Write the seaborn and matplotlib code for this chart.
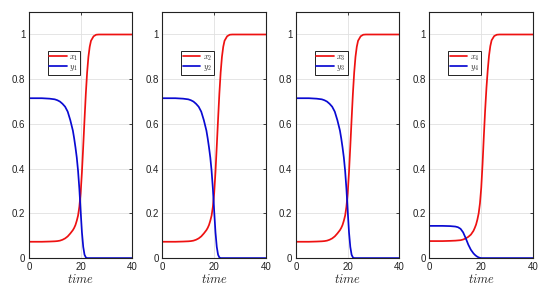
import numpy as np
import pandas as pd
import matplotlib
matplotlib.use("Agg")
import matplotlib.pyplot as plt
import seaborn as sns

# ---- data ----
time = [0, 5, 8, 10, 11, 12, 13, 14, 15, 16, 17, 17.5, 18, 18.5, 19, 19.5,
        20, 20.5, 21, 21.5, 22, 22.5, 23, 23.5, 24, 25, 26, 27, 30, 40]

x1 = [0.073, 0.073, 0.074, 0.075, 0.076, 0.078, 0.082, 0.088, 0.097, 0.11, 0.125, 0.135,
      0.148, 0.167, 0.19, 0.23, 0.29, 0.385, 0.50, 0.62, 0.735, 0.83, 0.90, 0.945,
      0.972, 0.992, 0.999, 1.0, 1.0, 1.0]
y1 = [0.715, 0.715, 0.713, 0.71, 0.706, 0.70, 0.69, 0.677, 0.655, 0.617, 0.57, 0.535,
      0.495, 0.45, 0.39, 0.31, 0.21, 0.115, 0.05, 0.015, 0.003, 0.0, 0.0, 0.0,
      0.0, 0.0, 0.0, 0.0, 0.0, 0.0]

x2 = [0.073, 0.073, 0.074, 0.075, 0.076, 0.078, 0.082, 0.088, 0.097, 0.11, 0.125, 0.135,
      0.148, 0.167, 0.19, 0.23, 0.29, 0.385, 0.50, 0.62, 0.735, 0.83, 0.90, 0.945,
      0.972, 0.992, 0.999, 1.0, 1.0, 1.0]
y2 = [0.715, 0.715, 0.713, 0.71, 0.706, 0.70, 0.69, 0.677, 0.655, 0.617, 0.57, 0.535,
      0.495, 0.45, 0.39, 0.31, 0.21, 0.115, 0.05, 0.015, 0.003, 0.0, 0.0, 0.0,
      0.0, 0.0, 0.0, 0.0, 0.0, 0.0]

x3 = [0.073, 0.073, 0.074, 0.075, 0.076, 0.078, 0.082, 0.088, 0.097, 0.11, 0.125, 0.135,
      0.148, 0.167, 0.19, 0.23, 0.29, 0.385, 0.50, 0.62, 0.735, 0.83, 0.90, 0.945,
      0.972, 0.992, 0.999, 1.0, 1.0, 1.0]
y3 = [0.715, 0.715, 0.713, 0.71, 0.706, 0.70, 0.69, 0.677, 0.655, 0.617, 0.57, 0.535,
      0.495, 0.45, 0.39, 0.31, 0.21, 0.115, 0.05, 0.015, 0.003, 0.0, 0.0, 0.0,
      0.0, 0.0, 0.0, 0.0, 0.0, 0.0]

x4 = [0.076, 0.076, 0.077, 0.078, 0.079, 0.080, 0.083, 0.088, 0.095, 0.105, 0.122, 0.135,
      0.15, 0.172, 0.20, 0.245, 0.315, 0.42, 0.545, 0.66, 0.76, 0.84, 0.905, 0.948,
      0.974, 0.993, 0.999, 1.0, 1.0, 1.0]
y4 = [0.144, 0.144, 0.143, 0.141, 0.138, 0.131, 0.115, 0.089, 0.060, 0.037, 0.021, 0.015,
      0.010, 0.006, 0.003, 0.001, 0.0, 0.0, 0.0, 0.0, 0.0, 0.0, 0.0, 0.0,
      0.0, 0.0, 0.0, 0.0, 0.0, 0.0]

xs = [x1, x2, x3, x4]
ys = [y1, y2, y3, y4]
x_labels = ["$x_1$", "$x_2$", "$x_3$", "$x_4$"]
y_labels = ["$y_1$", "$y_2$", "$y_3$", "$y_4$"]
x_ticks = [0, 20, 40]
y_ticks = [0, 0.2, 0.4, 0.6, 0.8, 1.0]
y_tick_labels = ["0", "0.2", "0.4", "0.6", "0.8", "1"]

sns.set_style("white")
plt.rcParams["font.family"] = ["Liberation Sans", "DejaVu Sans"]
plt.rcParams["mathtext.fontset"] = "cm"

fig, axes = plt.subplots(1, 4, figsize=(5.45, 2.89), dpi=100)
fig.subplots_adjust(left=0.053, right=0.978, top=0.958, bottom=0.107, wspace=0.29)

for i, ax in enumerate(axes):
    df = pd.DataFrame({
        "time": time * 2,
        "value": xs[i] + ys[i],
        "series": [x_labels[i]] * len(time) + [y_labels[i]] * len(time),
    })
    sns.lineplot(data=df, x="time", y="value", hue="series",
                 palette={x_labels[i]: "#ee1111", y_labels[i]: "#0a0ad2"},
                 linewidth=1.25, ax=ax, legend=False, sort=False)
    ax.set_xlim(0, 40)
    ax.set_ylim(0, 1.1)
    ax.set_xticks(x_ticks)
    ax.set_xticklabels([str(v) for v in x_ticks])
    ax.set_yticks(y_ticks)
    ax.set_yticklabels(y_tick_labels)
    ax.grid(True, color="#e0e0e0", linewidth=0.6)
    ax.set_axisbelow(True)
    ax.tick_params(direction="in", length=2.5, width=0.6, labelsize=7,
                   top=True, right=True, pad=2.5, colors="#222222", labelcolor="#222222")
    for sp in ax.spines.values():
        sp.set_color("#222222")
        sp.set_linewidth(0.8)
    ax.set_xlabel("$time$", fontsize=9, labelpad=1)
    ax.set_ylabel("")
    lines = ax.get_lines()
    leg = ax.legend(lines[:2], [x_labels[i], y_labels[i]], loc="upper left",
                    bbox_to_anchor=(0.18, 0.84), fontsize=6, frameon=True,
                    fancybox=False, framealpha=1, edgecolor="#222222",
                    handlelength=2.1, handletextpad=0.3, borderpad=0.22,
                    labelspacing=0.08, borderaxespad=0)
    leg.get_frame().set_linewidth(0.7)

fig.savefig("out.png", dpi=100)
